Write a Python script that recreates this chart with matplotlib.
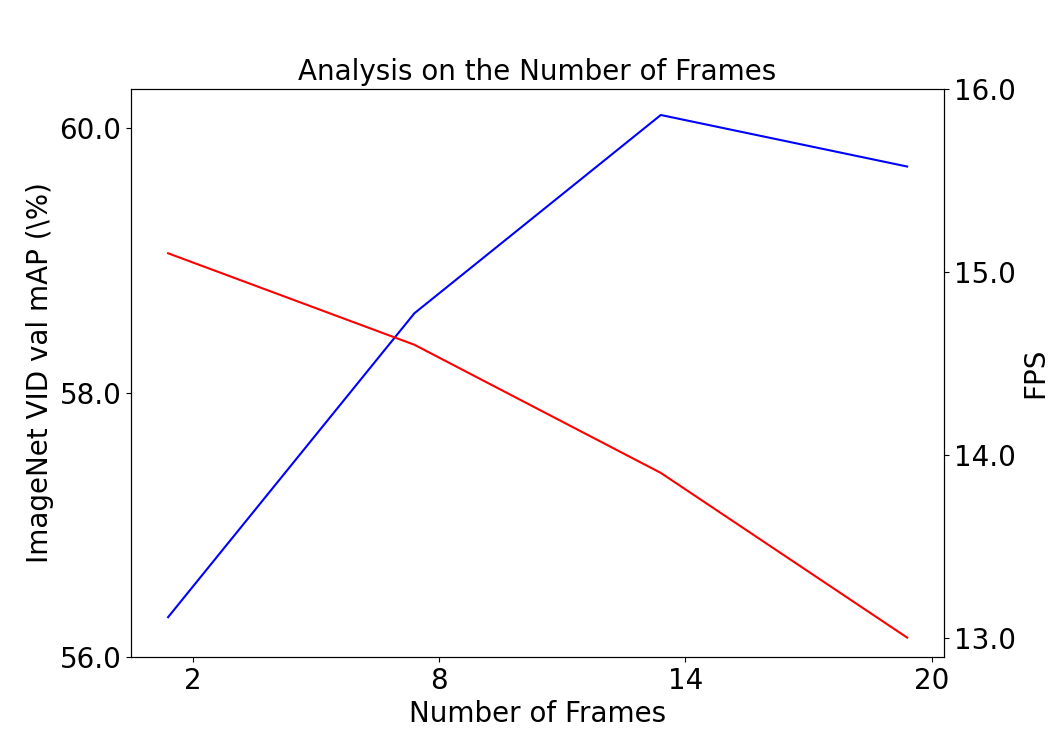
import matplotlib
matplotlib.use('Agg')
import matplotlib.pyplot as plt

# frames (points sit a bit left of the tick marks)
frames = [1.4, 7.4, 13.4, 19.4]
frame_ticks = [2, 8, 14, 20]
mAP = [56.3, 58.6, 60.1, 59.71]
fps = [15.1, 14.6, 13.9, 13.0]

plt.rcParams['font.size'] = 20

fig, ax1 = plt.subplots(figsize=(10.49, 7.38), dpi=100)
ax1.plot(frames, mAP, 'b')
ax1.set_ylim(56.0, 60.3)
ax1.set_yticks([56.0, 58.0, 60.0])
ax1.set_yticklabels(['56.0', '58.0', '60.0'])
ax1.set_xticks(frame_ticks)
ax1.set_xlabel('Number of Frames')
ax1.set_ylabel('ImageNet VID val mAP (\\%)')
ax1.set_title('Analysis on the Number of Frames', fontsize=20)

ax2 = ax1.twinx()
ax2.plot(frames, fps, 'r')
ax2.set_ylim(top=16.0)
ax2.set_yticks([13.0, 14.0, 15.0, 16.0])
ax2.set_yticklabels(['13.0', '14.0', '15.0', '16.0'])
ax2.set_ylabel('FPS')

plt.savefig('out.png')
